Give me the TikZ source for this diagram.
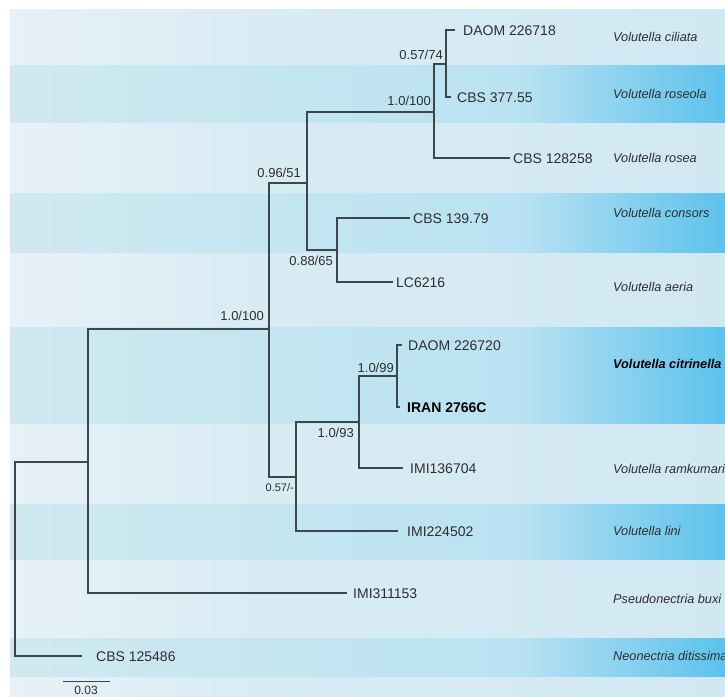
\documentclass[tikz,border=0pt]{standalone}
\usepackage{fontspec}
\setmainfont{Liberation Sans}
\definecolor{lightA}{HTML}{E7F1F7}
\definecolor{lightB}{HTML}{D9ECF4}
\definecolor{lightC}{HTML}{D1E8F3}
\definecolor{blueA}{HTML}{D0E9F1}
\definecolor{blueB}{HTML}{C5E6F0}
\definecolor{blueC}{HTML}{B9E2F2}
\definecolor{blueD}{HTML}{5CC2EC}
\definecolor{treeline}{HTML}{3D474B}
\definecolor{txt}{HTML}{2E2E2E}
\begin{document}
\begin{tikzpicture}[x=1pt,y=-1pt,
  branch/.style={draw=treeline,line width=1.3pt},
  strain/.style={anchor=west,inner sep=0pt,text=txt,font=\fontsize{14}{16}\selectfont,text height=10pt,text depth=0pt},
  strainbold/.style={strain,text=black,font=\fontsize{14}{16}\selectfont\bfseries},
  species/.style={anchor=west,inner sep=0pt,text=txt,font=\fontsize{12.7}{15}\selectfont\itshape,text height=9.1pt,text depth=0pt},
  speciesbold/.style={species,text=black,font=\fontsize{12.7}{15}\selectfont\bfseries\itshape},
  support/.style={anchor=east,inner sep=0pt,text=txt,font=\fontsize{13}{15}\selectfont,text height=9.3pt,text depth=0pt},
  supportsmall/.style={support,font=\fontsize{11}{13}\selectfont,text height=7.9pt},
  scalelabel/.style={inner sep=0pt,text=txt,font=\fontsize{12}{14}\selectfont}
]
\useasboundingbox (0,0) rectangle (725,696);
\fill[white] (0,0) rectangle (725,696);
% background bands
\foreach \t/\b in {9/65,122/193,252/327,423/504,559/638,676/696}{
  \shade[left color=lightA,right color=lightB] (10,\t) rectangle (250.6,\b);
  \shade[left color=lightB,right color=lightC] (250,\t) rectangle (725,\b);
}
\foreach \t/\b in {65/122,193/252,327/423,504/559,638/676}{
  \shade[left color=blueA,right color=blueB] (10,\t) rectangle (250.6,\b);
  \shade[left color=blueB,right color=blueC] (250,\t) rectangle (520.6,\b);
  \shade[left color=blueC,right color=blueD] (520,\t) rectangle (725,\b);
}
% internal nodes
\coordinate (R) at (15,559);
\coordinate (A) at (88,462);
\coordinate (B) at (269,329);
\coordinate (C) at (307,183);
\coordinate (D) at (296,477);
\coordinate (E) at (434,112);
\coordinate (F) at (337,250);
\coordinate (G) at (446,64);
\coordinate (H) at (359,422);
\coordinate (I) at (397,376);
% leaf tips
\coordinate (t1) at (455,30);
\coordinate (t2) at (451,97);
\coordinate (t3) at (510,158);
\coordinate (t4) at (410,218);
\coordinate (t5) at (393,282);
\coordinate (t6) at (402,345);
\coordinate (t7) at (400,407);
\coordinate (t8) at (403,468);
\coordinate (t9) at (398,531);
\coordinate (t10) at (347,593);
\coordinate (t11) at (82,656);
% branches
\draw[branch] (R) |- (A);
\draw[branch] (R) |- (t11);
\draw[branch] (A) |- (B);
\draw[branch] (A) |- (t10);
\draw[branch] (B) |- (C);
\draw[branch] (B) |- (D);
\draw[branch] (C) |- (E);
\draw[branch] (C) |- (F);
\draw[branch] (E) |- (G);
\draw[branch] (E) |- (t3);
\draw[branch] (G) |- (t1);
\draw[branch] (G) |- (t2);
\draw[branch] (F) |- (t4);
\draw[branch] (F) |- (t5);
\draw[branch] (D) |- (H);
\draw[branch] (D) |- (t9);
\draw[branch] (H) |- (I);
\draw[branch] (H) |- (t8);
\draw[branch] (I) |- (t6);
\draw[branch] (I) |- (t7);
% strain labels
\node[strain] (l1) at ([xshift=8pt]t1) {DAOM 226718};
\node[strain] (l2) at ([xshift=6pt]t2) {CBS 377.55};
\node[strain] (l3) at ([xshift=3pt]t3) {CBS 128258};
\node[strain] (l4) at ([xshift=3pt]t4) {CBS 139.79};
\node[strain] (l5) at ([xshift=3pt]t5) {LC6216};
\node[strain] (l6) at ([xshift=6pt]t6) {DAOM 226720};
\node[strainbold] (l7) at ([xshift=7pt]t7) {IRAN 2766C};
\node[strain] (l8) at ([xshift=7pt]t8) {IMI136704};
\node[strain] (l9) at ([xshift=9pt]t9) {IMI224502};
\node[strain] (l10) at ([xshift=6pt]t10) {IMI311153};
\node[strain] (l11) at ([xshift=14pt]t11) {CBS 125486};
% species labels
\node[species] (sp1) at (613,37) {Volutella ciliata};
\node[species] (sp2) at (613,94) {Volutella roseola};
\node[species] (sp3) at (613,158) {Volutella rosea};
\node[species] (sp4) at (613,213) {Volutella consors};
\node[species] (sp5) at (613,287) {Volutella aeria};
\node[speciesbold] (sp6) at (613,364) {Volutella citrinella};
\node[species] (sp7) at (613,469) {Volutella ramkumarii};
\node[species] (sp8) at (613,531) {Volutella lini};
\node[species] (sp9) at (613,599) {Pseudonectria buxi};
\node[species] (sp10) at (613,656) {Neonectria ditissima};
% support values
\node[support] (s1) at (443,55) {0.57/74};
\node[support] (s2) at (431,101) {1.0/100};
\node[support] (s3) at (301,173) {0.96/51};
\node[support] (s4) at (333,261) {0.88/65};
\node[support] (s5) at (264,316) {1.0/100};
\node[support] (s6) at (394,368) {1.0/99};
\node[support] (s7) at (354,433) {1.0/93};
\node[supportsmall] (s8) at (294,488) {0.57/-};
% scale bar
\coordinate (sb1) at (63,681);
\coordinate (sb2) at (110,681);
\draw[draw=treeline,line width=1pt] (sb1) -- (sb2);
\node[scalelabel] (sbl) at (86,690) {0.03};
\end{tikzpicture}
\end{document}
